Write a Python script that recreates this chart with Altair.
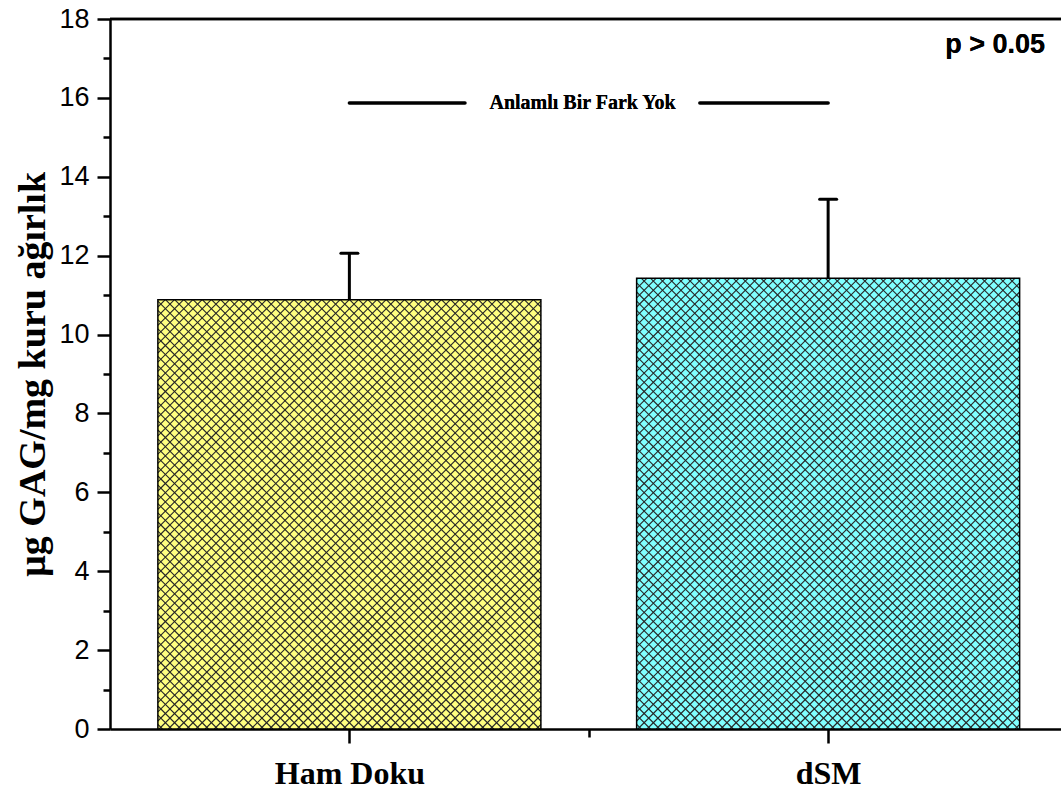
import altair as alt
import numpy as np
import pandas as pd

# Measured GAG content per group (mean and standard deviation)
categories = ["Ham Doku", "dSM"]
means = [10.88, 11.43]
errors = [1.18, 2.00]
bar_colors = ["#FFFF80", "#80FFFF"]

y_tick_values = list(range(0, 19))
x_tick_values = [1, 1.5, 2]

# Plot geometry
W, H = 951, 710
X_DOMAIN = [0.5, 2.4864]
Y_DOMAIN = [0, 18]
BAR_HALF = 0.4
HATCH_STEP = 9.2  # px between parallel hatch lines
CAP_HALF_PX = 8.5

px_x = W / (X_DOMAIN[1] - X_DOMAIN[0])
px_y = H / (Y_DOMAIN[1] - Y_DOMAIN[0])

positions = [i + 1 for i in range(len(categories))]
bars = pd.DataFrame({
    "cat": categories,
    "pos": positions,
    "mean": means,
    "err": errors,
    "color": bar_colors,
})
bars["x0"] = bars["pos"] - BAR_HALF
bars["x1"] = bars["pos"] + BAR_HALF
bars["base"] = 0.0
bars["top"] = bars["mean"] + bars["err"]
bars["cap0"] = bars["pos"] - CAP_HALF_PX / px_x
bars["cap1"] = bars["pos"] + CAP_HALF_PX / px_x

# Cross-hatch lines clipped to each bar rectangle (45 degrees on screen)
hatch_rows = []
for p, m in zip(positions, means):
    w = 2 * BAR_HALF * px_x
    h = m * px_y
    left = p - BAR_HALF
    for c in np.arange(-w + HATCH_STEP / 2, h, HATCH_STEP):
        u1, u2 = max(0.0, -c), min(w, h - c)
        if u2 > u1:
            hatch_rows.append((left + u1 / px_x, (u1 + c) / px_y,
                               left + u2 / px_x, (u2 + c) / px_y))
    for c in np.arange(HATCH_STEP / 2, w + h, HATCH_STEP):
        u1, u2 = max(0.0, c - h), min(w, c)
        if u2 > u1:
            hatch_rows.append((left + u1 / px_x, (c - u1) / px_y,
                               left + u2 / px_x, (c - u2) / px_y))
hatch = pd.DataFrame(hatch_rows, columns=["hx0", "hy0", "hx1", "hy1"])

# Annotation: "no significant difference" bracket and p-value
note_text = "Anlamlı Bir Fark Yok"
note_y = 15.87
note_segments = pd.DataFrame({"a": [1.0, 1.732], "b": [1.2415, 2.0]})
note_x = 1.487
p_text = "p > 0.05"
p_x, p_y = 2.453, 17.34

x_scale = alt.Scale(domain=X_DOMAIN, nice=False, zero=False)
y_scale = alt.Scale(domain=Y_DOMAIN, nice=False, zero=False)

x_axis = alt.Axis(
    values=x_tick_values,
    labelExpr="datum.value === 1 ? 'Ham Doku' : (datum.value === 2 ? 'dSM' : '')",
    title=None, grid=False,
    domainColor="black", domainWidth=2.5,
    tickColor="black", tickWidth=2.5,
    tickSize={"condition": {"test": "datum.value === 1.5", "value": 8}, "value": 14},
    labelFont="Liberation Serif", labelFontWeight="bold", labelFontSize=32,
    labelColor="black", labelPadding=15, labelOverlap=False, labelFlush=False,
)
y_axis = alt.Axis(
    values=y_tick_values,
    labelExpr="datum.value % 2 === 0 ? datum.label : ''",
    title="µg GAG/mg kuru ağırlık", grid=False,
    domainColor="black", domainWidth=2.5,
    tickColor="black", tickWidth=2.5,
    tickSize={"condition": {"test": "datum.value % 2 === 1", "value": 7}, "value": 13},
    labelFont="Liberation Sans", labelFontSize=27, labelColor="black",
    labelPadding=8, labelOverlap=False, labelFlush=False,
    titleFont="Liberation Serif", titleFontWeight="bold", titleFontSize=38,
    titleColor="black", titlePadding=6,
)

base = alt.Chart(bars)

fill = base.mark_rect(strokeWidth=0).encode(
    x=alt.X("x0:Q", scale=x_scale, axis=x_axis),
    x2="x1:Q",
    y=alt.Y("base:Q", scale=y_scale, axis=y_axis),
    y2="mean:Q",
    fill=alt.Fill("color:N", scale=None),
)

hatch_layer = alt.Chart(hatch).mark_rule(color="#262626", strokeWidth=1.1).encode(
    x=alt.X("hx0:Q", scale=x_scale, axis=x_axis),
    x2="hx1:Q",
    y=alt.Y("hy0:Q", scale=y_scale, axis=y_axis),
    y2="hy1:Q",
)

outline = base.mark_rect(fill=None, stroke="black", strokeWidth=1.5).encode(
    x=alt.X("x0:Q", scale=x_scale, axis=x_axis),
    x2="x1:Q",
    y=alt.Y("base:Q", scale=y_scale, axis=y_axis),
    y2="mean:Q",
)

err_stem = base.mark_rule(color="black", strokeWidth=3).encode(
    x=alt.X("pos:Q", scale=x_scale, axis=x_axis),
    y=alt.Y("mean:Q", scale=y_scale, axis=y_axis),
    y2="top:Q",
)

err_cap = base.mark_rule(color="black", strokeWidth=3, strokeCap="round").encode(
    x=alt.X("cap0:Q", scale=x_scale, axis=x_axis),
    x2="cap1:Q",
    y=alt.Y("top:Q", scale=y_scale, axis=y_axis),
)

top_line = alt.Chart(bars).mark_rule(color="black", strokeWidth=2.5).encode(
    y=alt.Y(datum=Y_DOMAIN[1], scale=y_scale, axis=y_axis),
    x=alt.value(0),
    x2=alt.value(W),
)

note_lines = alt.Chart(note_segments).mark_rule(
    color="black", strokeWidth=3.5, strokeCap="round"
).encode(
    x=alt.X("a:Q", scale=x_scale, axis=x_axis),
    x2="b:Q",
    y=alt.Y(datum=note_y, scale=y_scale, axis=y_axis),
)

note_label = alt.Chart(bars).mark_text(
    text=note_text, font="Liberation Serif", fontWeight="bold", fontSize=20,
    color="black", align="center", baseline="middle",
).encode(
    x=alt.X(datum=note_x, scale=x_scale, axis=x_axis),
    y=alt.Y(datum=note_y, scale=y_scale, axis=y_axis),
)

p_label = alt.Chart(bars).mark_text(
    text=p_text, font="Liberation Sans", fontWeight="bold", fontSize=27,
    color="black", align="right", baseline="middle",
).encode(
    x=alt.X(datum=p_x, scale=x_scale, axis=x_axis),
    y=alt.Y(datum=p_y, scale=y_scale, axis=y_axis),
)

chart = alt.layer(
    fill, hatch_layer, outline, err_stem, err_cap, top_line,
    note_lines, note_label, p_label,
).properties(
    width=W, height=H,
    autosize=alt.AutoSizeParams(type="none"),
    padding={"left": 110, "top": 19, "right": 0, "bottom": 65},
    background="white",
).configure_view(stroke=None)

chart.save("out.html", embed_options={"renderer": "svg", "actions": False})
